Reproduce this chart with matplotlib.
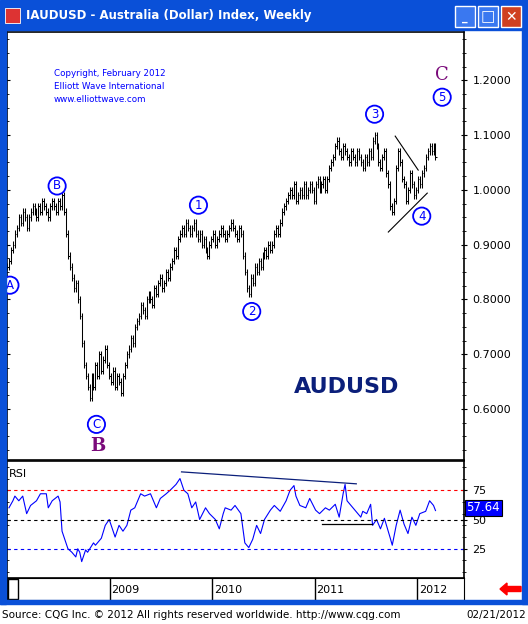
import numpy as np
import matplotlib.pyplot as plt
from matplotlib.patches import Rectangle, FancyArrow

# weekly closes, first week of Jan 2008 onward
closes = [
    0.86, 0.87, 0.89, 0.90, 0.92, 0.93, 0.95,
    0.94, 0.96, 0.95, 0.93, 0.95, 0.96, 0.97, 0.96,
    0.95, 0.97, 0.96, 0.98, 0.97, 0.96, 0.95, 0.97, 0.98, 0.97, 0.96, 0.98, 0.97, 0.99,
    0.96, 0.92, 0.88, 0.86, 0.84, 0.82, 0.83,
    0.80, 0.77, 0.72, 0.68, 0.66, 0.64, 0.62,
    0.66, 0.64, 0.68, 0.66, 0.70, 0.67, 0.69, 0.71, 0.68, 0.66, 0.65, 0.67, 0.64, 0.66, 0.65, 0.63, 0.66, 0.68,
    0.70, 0.71, 0.73, 0.72, 0.75, 0.76, 0.77, 0.79, 0.78, 0.77, 0.80, 0.81, 0.80, 0.79, 0.82, 0.81, 0.83, 0.84, 0.82, 0.83,
    0.85, 0.84, 0.86, 0.87, 0.89, 0.88, 0.91, 0.92, 0.93, 0.92, 0.94, 0.93, 0.92, 0.93, 0.94, 0.92, 0.91, 0.92,
    0.90, 0.91, 0.89, 0.88, 0.90, 0.91, 0.92, 0.90, 0.91, 0.92, 0.93, 0.92, 0.91, 0.92, 0.93, 0.94, 0.93, 0.92, 0.91, 0.93, 0.92, 0.88,
    0.85, 0.82, 0.81, 0.84, 0.83, 0.86, 0.85,
    0.87, 0.86, 0.88, 0.89, 0.88, 0.90, 0.89, 0.90, 0.92, 0.93, 0.92, 0.94, 0.96, 0.97, 0.98, 0.99, 1.00, 0.99, 1.01, 0.98,
    0.99, 1.00, 0.99, 1.01, 0.99, 1.00, 1.01, 1.00, 0.98, 1.01, 1.02, 1.00, 1.01, 1.02, 1.00,
    1.02, 1.04, 1.05, 1.06, 1.08, 1.09, 1.07, 1.06, 1.08, 1.07, 1.06, 1.05, 1.07,
    1.06, 1.05, 1.07, 1.06, 1.05, 1.04, 1.06, 1.05, 1.07, 1.06, 1.09,
    1.10, 1.08, 1.05, 1.04, 1.06, 1.07, 1.03,
    1.01, 0.97, 0.96, 0.98, 1.04, 1.07, 1.05, 1.02, 1.01, 0.98, 1.00, 1.03, 1.01, 0.99,
    1.00, 1.02, 1.01, 1.03, 1.04, 1.06, 1.07,
    1.08, 1.07, 1.08, 1.06,
]

# RSI read at selected weeks
rsi_weeks = [1, 3, 4, 6, 8, 10, 12, 15, 17, 20, 21, 23, 26, 27, 28, 30, 31, 33, 35, 36, 37, 38, 40, 41,
             44, 45, 48, 50, 52, 54, 55, 57, 59, 61, 63, 65, 68, 70, 73, 76, 78, 81, 83, 86, 88, 90, 92,
             94, 96, 98, 101, 103, 106, 108, 110, 111, 114, 116, 119, 121, 123, 125, 127, 129, 131, 134,
             136, 139, 142, 144, 146, 147, 149, 152, 154, 157, 159, 162, 164, 167, 169, 171, 172, 173,
             176, 177, 180, 181, 183, 185, 186, 188, 190, 192, 195, 196, 198, 200, 202, 204, 206, 208,
             210, 213, 215, 217, 218]
rsi_vals = [60, 66, 70, 66, 70, 55, 62, 66, 72, 72, 60, 66, 70, 65, 40, 30, 25, 22, 18, 25, 22, 14, 24, 22,
            30, 28, 34, 45, 50, 40, 35, 45, 40, 45, 58, 60, 72, 70, 72, 60, 68, 72, 75, 80, 85, 75, 72,
            60, 65, 50, 60, 55, 50, 42, 55, 60, 58, 62, 55, 30, 26, 33, 45, 38, 50, 58,
            62, 57, 66, 75, 79, 70, 62, 60, 68, 58, 55, 60, 58, 63, 52, 72, 80, 66,
            60, 58, 52, 57, 55, 63, 45, 50, 42, 51, 34, 28, 45, 58, 46, 38, 52, 45,
            55, 57, 66, 62, 57.64]

year_weeks = [52.2, 104.4, 156.5, 208.7]
year_labels = ["2009", "2010", "2011", "2012"]
price_ticks = [0.6, 0.7, 0.8, 0.9, 1.0, 1.1, 1.2]

BLUE = "#0000ff"
NAVY = "#0b1f7a"
PURPLE = "#7a0a7a"
FRAME = "#0a50d8"

fig = plt.figure(figsize=(5.28, 6.24), dpi=100)
fig.patch.set_facecolor("white")
W, H = 528, 624


def fx(px):
    return px / W


def fy(py):
    return 1 - py / H


# window frame
fig.patches.append(Rectangle((0, fy(30)), 1, 30 / H, transform=fig.transFigure, color=FRAME, zorder=0))
fig.patches.append(Rectangle((0, fy(604)), fx(6), 574 / H, transform=fig.transFigure, color=FRAME, zorder=0))
fig.patches.append(Rectangle((fx(522), fy(604)), fx(6), 574 / H, transform=fig.transFigure, color=FRAME, zorder=0))
fig.patches.append(Rectangle((0, fy(604)), 1, 4 / H, transform=fig.transFigure, color=FRAME, zorder=0))
fig.text(fx(26), fy(16), "IAUDUSD - Australia (Dollar) Index, Weekly", color="white",
         fontsize=8.5, fontweight="bold", va="center")
fig.patches.append(Rectangle((fx(5), fy(23)), fx(15), 15 / H, transform=fig.transFigure,
                             fc="#dd3333", ec="white", lw=0.6))
for i, x0 in enumerate([455, 478, 501]):
    fig.patches.append(Rectangle((fx(x0), fy(27)), fx(20), 21 / H, transform=fig.transFigure,
                                 fc="#d04020" if i == 2 else "#3a78f0", ec="white", lw=1))
fig.text(fx(465), fy(18), "_", color="white", ha="center", va="center", fontsize=8, fontweight="bold")
fig.text(fx(488), fy(17), "□", color="white", ha="center", va="center", fontsize=11)
fig.text(fx(511), fy(17), "✕", color="white", ha="center", va="center", fontsize=10, fontweight="bold")

# price panel
ax = fig.add_axes([fx(7), fy(460), fx(457), 428 / H])
weeks = np.arange(len(closes))
c = np.array(closes)
prev = np.concatenate([[c[0]], c[:-1]])
hi = np.maximum(prev, c) + 0.006
lo = np.minimum(prev, c) - 0.006
ax.vlines(weeks, lo, hi, color="black", lw=0.75)
ax.hlines(c, weeks, weeks + 0.8, color="black", lw=0.75)
ax.set_xlim(0, 232.5)
ax.set_ylim(0.507, 1.288)
ax.yaxis.tick_right()
ax.set_yticks(price_ticks)
ax.set_yticklabels([f"{p:.4f}" for p in price_ticks], fontsize=8)
ax.set_yticks(np.arange(0.525, 1.29, 0.025), minor=True)
ax.tick_params(axis="y", which="both", direction="inout", length=5, right=True, left=True)
ax.tick_params(axis="y", which="minor", length=3)
ax.set_xticks([])
for s in ax.spines.values():
    s.set_linewidth(1.2)

circ = dict(boxstyle="circle,pad=0.18", fc="white", ec=BLUE, lw=1.3)
for lab, wk, pr in [("A", 1.5, 0.826), ("B", 25.5, 1.007), ("C", 45.5, 0.572),
                    ("1", 97.4, 0.972), ("2", 124.5, 0.778), ("3", 187, 1.138),
                    ("4", 211, 0.952), ("5", 221.4, 1.169)]:
    ax.text(wk, pr, lab, color=BLUE, fontsize=8.5, ha="center", va="center", bbox=circ)
ax.text(46, 0.532, "B", color=PURPLE, fontsize=13, fontweight="bold", family="DejaVu Serif",
        ha="center", va="center")
ax.text(221, 1.209, "C", color=PURPLE, fontsize=13, family="DejaVu Serif", ha="center", va="center")
ax.plot([197.5, 209.2], [1.098, 1.036], color="black", lw=0.8)
ax.plot([194, 213.8], [0.923, 0.994], color="black", lw=0.8)
ax.text(173, 0.64, "AUDUSD", color=NAVY, fontsize=16, fontweight="bold", ha="center", va="center")
ax.text(0.103, 0.914, "Copyright, February 2012\nElliott Wave International\nwww.elliottwave.com",
        transform=ax.transAxes, color=BLUE, fontsize=6.3, va="top", linespacing=1.6)

# RSI panel
ar = fig.add_axes([fx(7), fy(578), fx(457), 117 / H])
ar.plot(rsi_weeks, rsi_vals, color=BLUE, lw=0.8)
ar.axhline(75, color="red", ls=(0, (3, 3)), lw=0.8)
ar.axhline(50, color="black", ls=(0, (3, 3)), lw=0.8)
ar.axhline(25, color=BLUE, ls=(0, (3, 3)), lw=0.8)
ar.plot([88.8, 177.7], [90.7, 80.5], color=NAVY, lw=0.9)
ar.plot([160.4, 185.8], [45.8, 45.8], color="black", lw=0.9)
ar.set_xlim(0, 232.5)
ar.set_ylim(0, 100)
ar.yaxis.tick_right()
ar.set_yticks([25, 50, 75])
ar.set_yticklabels(["25", "50", "75"], fontsize=8)
ar.set_yticks(np.arange(5, 100, 10), minor=True)
ar.tick_params(axis="y", which="both", direction="inout", length=5, right=True, left=True)
ar.tick_params(axis="y", which="minor", length=3)
ar.set_xticks([])
for s in ar.spines.values():
    s.set_linewidth(1.2)
ar.text(0.005, 0.93, "RSI", transform=ar.transAxes, fontsize=8, va="top")
ar.text(1.005, 0.60, "57.64", transform=ar.transAxes, color="white", fontsize=8.5,
        va="center", ha="left", clip_on=False,
        bbox=dict(boxstyle="square,pad=0.15", fc=BLUE, ec="black", lw=0.8))

# date strip
ad = fig.add_axes([fx(7), fy(600), fx(457), 22 / H])
ad.set_xlim(0, 232.5)
ad.set_ylim(0, 1)
ad.set_xticks([])
ad.set_yticks([])
for wk, lab in zip(year_weeks, year_labels):
    ad.axvline(wk, color="black", lw=1)
    ad.text(wk + 0.8, 0.45, lab, fontsize=8, va="center")
ad.add_patch(Rectangle((0.3, 0.05), 5.3, 0.9, fc="white", ec="black", lw=1))
fig.patches.append(FancyArrow(fx(521), fy(589), -fx(14), 0, width=5 / H, head_width=12 / H,
                              head_length=fx(7), transform=fig.transFigure, color="red"))

fig.text(fx(2), fy(615), "Source: CQG Inc. \u00a9 2012 All rights reserved worldwide. http://www.cqg.com",
         fontsize=7.5, va="center")
fig.text(fx(526), fy(615), "02/21/2012", fontsize=7.5, va="center", ha="right")

fig.savefig("out.png", dpi=100)
